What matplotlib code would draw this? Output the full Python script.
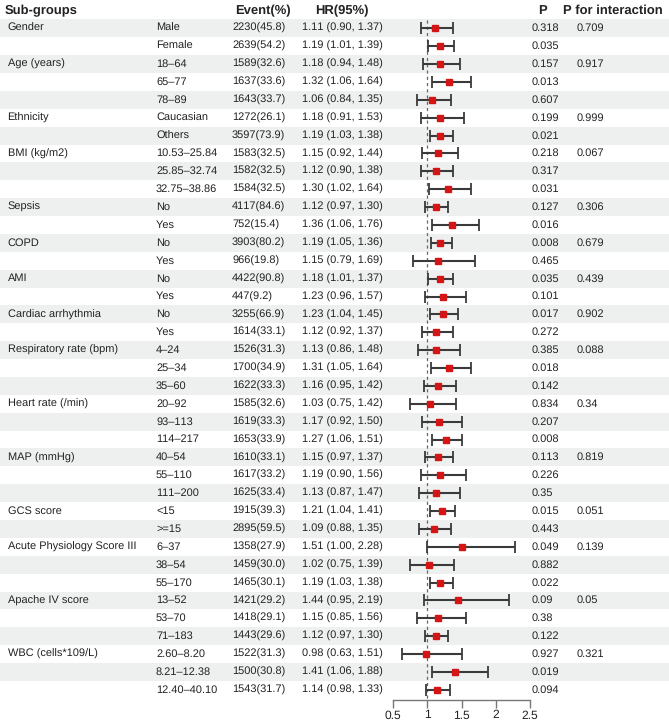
import matplotlib
matplotlib.use("Agg")
import matplotlib.pyplot as plt

plt.rcParams['font.family'] = ['Liberation Sans', 'DejaVu Sans']
plt.rcParams['text.hinting'] = 'no_hinting'
plt.rcParams['text.hinting_factor'] = 1

groups = ["Gender", "", "Age (years)", "", "", "Ethnicity", "", "BMI (kg/m2)", "", "",
          "Sepsis", "", "COPD", "", "AMI", "", "Cardiac arrhythmia", "",
          "Respiratory rate (bpm)", "", "", "Heart rate (/min)", "", "",
          "MAP (mmHg)", "", "", "GCS score", "", "Acute Physiology Score III", "", "",
          "Apache IV score", "", "", "WBC (cells*109/L)", "", ""]
subgroups = ["Male", "Female", "18–64", "65–77", "78–89", "Caucasian", "Others",
             "10.53–25.84", "25.85–32.74", "32.75–38.86", "No", "Yes", "No", "Yes",
             "No", "Yes", "No", "Yes", "4–24", "25–34", "35–60", "20–92", "93–113",
             "114–217", "40–54", "55–110", "111–200", "<15", ">=15", "6–37", "38–54",
             "55–170", "13–52", "53–70", "71–183", "2.60–8.20", "8.21–12.38", "12.40–40.10"]
events = ["2230(45.8)", "2639(54.2)", "1589(32.6)", "1637(33.6)", "1643(33.7)",
          "1272(26.1)", "3597(73.9)", "1583(32.5)", "1582(32.5)", "1584(32.5)",
          "4117(84.6)", "752(15.4)", "3903(80.2)", "966(19.8)", "4422(90.8)", "447(9.2)",
          "3255(66.9)", "1614(33.1)", "1526(31.3)", "1700(34.9)", "1622(33.3)",
          "1585(32.6)", "1619(33.3)", "1653(33.9)", "1610(33.1)", "1617(33.2)",
          "1625(33.4)", "1915(39.3)", "2895(59.5)", "1358(27.9)", "1459(30.0)",
          "1465(30.1)", "1421(29.2)", "1418(29.1)", "1443(29.6)", "1522(31.3)",
          "1500(30.8)", "1543(31.7)"]
hr = [1.11, 1.19, 1.18, 1.32, 1.06, 1.18, 1.19, 1.15, 1.12, 1.30, 1.12, 1.36, 1.19, 1.15,
      1.18, 1.23, 1.23, 1.12, 1.13, 1.31, 1.16, 1.03, 1.17, 1.27, 1.15, 1.19, 1.13, 1.21,
      1.09, 1.51, 1.02, 1.19, 1.44, 1.15, 1.12, 0.98, 1.41, 1.14]
lo = [0.90, 1.01, 0.94, 1.06, 0.84, 0.91, 1.03, 0.92, 0.90, 1.02, 0.97, 1.06, 1.05, 0.79,
      1.01, 0.96, 1.04, 0.92, 0.86, 1.05, 0.95, 0.75, 0.92, 1.06, 0.97, 0.90, 0.87, 1.04,
      0.88, 1.00, 0.75, 1.03, 0.95, 0.85, 0.97, 0.63, 1.06, 0.98]
hi = [1.37, 1.39, 1.48, 1.64, 1.35, 1.53, 1.38, 1.44, 1.38, 1.64, 1.30, 1.76, 1.36, 1.69,
      1.37, 1.57, 1.45, 1.37, 1.48, 1.64, 1.42, 1.42, 1.50, 1.51, 1.37, 1.56, 1.47, 1.41,
      1.35, 2.28, 1.39, 1.38, 2.19, 1.56, 1.30, 1.51, 1.88, 1.33]
pvals = ["0.318", "0.035", "0.157", "0.013", "0.607", "0.199", "0.021", "0.218", "0.317",
         "0.031", "0.127", "0.016", "0.008", "0.465", "0.035", "0.101", "0.017", "0.272",
         "0.385", "0.018", "0.142", "0.834", "0.207", "0.008", "0.113", "0.226", "0.35",
         "0.015", "0.443", "0.049", "0.882", "0.022", "0.09", "0.38", "0.122", "0.927",
         "0.019", "0.094"]
p_int = ["0.709", "", "0.917", "", "", "0.999", "", "0.067", "", "", "0.306", "", "0.679", "",
         "0.439", "", "0.902", "", "0.088", "", "", "0.34", "", "", "0.819", "", "", "0.051", "",
         "0.139", "", "", "0.05", "", "", "0.321", "", ""]
xticks = [0.5, 1, 1.5, 2, 2.5]
xticklabels = ["0.5", "1", "1.5", "2", "2.5"]

W, H = 669, 727
fig = plt.figure(figsize=(W / 100, H / 100), dpi=100)
fig.patch.set_facecolor('white')

bg = fig.add_axes([0, 0, 1, 1])
bg.set_xlim(0, W)
bg.set_ylim(H, 0)
bg.axis('off')

y0, dy = 28.3, 17.88
n = len(subgroups)
rows = [y0 + i * dy for i in range(n)]
txt = '#222222'
fs = 8.2
hfs = 9.4

for i, y in enumerate(rows):
    if i % 2 == 0:
        bg.axhspan(y - dy / 2, y + dy / 2, color='#eef0ef', lw=0, zorder=0)

# headers
hy = 10.5
bg.text(5, hy, "Sub-groups", fontsize=hfs, fontweight='bold', va='center', color=txt)
bg.text(235, hy, "Event(%)", fontsize=hfs, fontweight='bold', va='center', color=txt)
bg.text(315, hy, "HR(95%)", fontsize=hfs, fontweight='bold', va='center', color=txt)
bg.text(538, hy, "P", fontsize=hfs, fontweight='bold', va='center', color=txt)
bg.text(563, hy, "P for interaction", fontsize=hfs, fontweight='bold', va='center', color=txt)

for i, y in enumerate(rows):
    bg.text(7.5, y, groups[i], fontsize=fs, va='center', color=txt)
    bg.text(156, y, subgroups[i], fontsize=fs, va='center', color=txt)
    bg.text(232, y, events[i], fontsize=fs, va='center', color=txt)
    bg.text(301.5, y, f"{hr[i]:.2f} ({lo[i]:.2f}, {hi[i]:.2f})", fontsize=fs, va='center', color=txt)
    bg.text(532, y, pvals[i], fontsize=fs, va='center', color=txt)
    bg.text(577, y, p_int[i], fontsize=fs, va='center', color=txt)

# forest axes: x 393..530 px, y 0..700 px
x_left, x_right, y_axis = 393.3, 530.0, 700.0
ax = fig.add_axes([x_left / W, (H - y_axis) / H, (x_right - x_left) / W, y_axis / H])
ax.patch.set_alpha(0)
ax.set_xlim(0.5, 2.5)
ax.set_ylim(y_axis, 0)
for s in ['top', 'right', 'left']:
    ax.spines[s].set_visible(False)
ax.spines['bottom'].set_color('#777777')
ax.spines['bottom'].set_linewidth(1.0)
ax.set_yticks([])
ax.set_xticks(xticks)
ax.set_xticklabels(xticklabels)
ax.tick_params(axis='x', direction='out', length=6, width=1.0, color='#777777',
               labelsize=8.8, labelcolor=txt, pad=1)

ax.plot([1, 1], [rows[0] - 8, y_axis], color='#666666', lw=0.9, ls=(0, (2.5, 2.5)), zorder=1)
for i, y in enumerate(rows):
    ax.errorbar(hr[i], y, xerr=[[hr[i] - lo[i]], [hi[i] - hr[i]]], fmt='none',
                ecolor='#3a3a3a', elinewidth=1.5, capsize=4.2, capthick=1.3, zorder=2)
    ax.plot(hr[i], y, marker='s', ms=4.8, color='#d41515', mec='#d41515', zorder=3)

fig.savefig("out.png", dpi=100, facecolor='white')
